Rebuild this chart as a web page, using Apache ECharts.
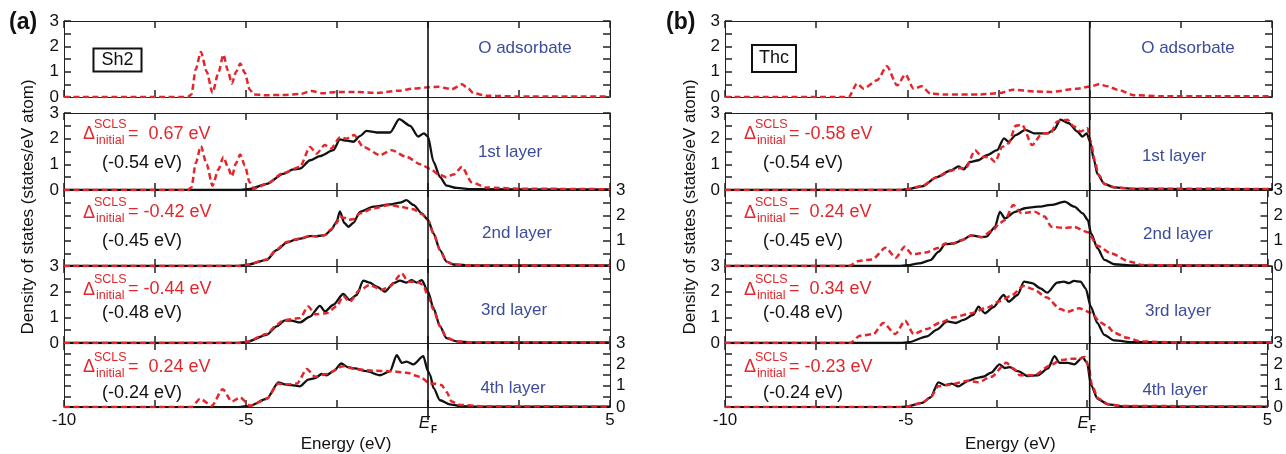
<!DOCTYPE html>
<html><head><meta charset="utf-8">
<script src="https://cdn.jsdelivr.net/npm/echarts@6/dist/echarts.min.js"></script>
<style>html,body{margin:0;padding:0;background:#fff}#c{width:1286px;height:454px}</style>
</head><body><div id="c"></div><script>
// ---------- DATA (energy eV, DOS states/eV atom) ----------
const aO_red = [[-10,0],[-6.6,0],[-6.5,0.1],[-6.38,1.1],[-6.24,1.78],[-6.08,1.0],[-5.92,0.16],[-5.76,0.95],[-5.62,1.67],[-5.5,1.05],[-5.39,0.53],[-5.27,1.0],[-5.16,1.32],[-5.03,0.95],[-4.9,0.3],[-4.78,0.1],[-4.5,0.07],[-4,0.08],[-3.5,0.12],[-3.2,0.24],[-2.9,0.15],[-2.5,0.2],[-2,0.2],[-1.4,0.16],[-0.8,0.25],[-0.4,0.33],[0,0.38],[0.3,0.4],[0.5,0.35],[0.65,0.3],[0.93,0.5],[1.1,0.35],[1.25,0.15],[1.6,0.05],[2.5,0.02],[5,0.02]];
const a1_black = [[-10,0],[-5.2,0],[-4.89,0.04],[-4.43,0.24],[-3.98,0.63],[-3.7,0.8],[-3.52,0.83],[-3.24,1.16],[-2.97,1.32],[-2.6,1.55],[-2.42,1.97],[-2.24,1.92],[-2.05,1.88],[-1.87,2.1],[-1.69,2.3],[-1.41,2.24],[-1.04,2.24],[-0.79,2.76],[-0.49,2.5],[-0.27,2.08],[-0.11,2.21],[0,2.08],[0.15,1.1],[0.33,0.5],[0.51,0.17],[0.79,0.08],[1.2,0.03],[5,0.02]];
const a1_red = [[-10,0],[-6.6,0],[-6.5,0.1],[-6.38,1.05],[-6.24,1.71],[-6.08,1.0],[-5.92,0.17],[-5.76,0.8],[-5.62,1.29],[-5.5,0.9],[-5.39,0.53],[-5.27,1.05],[-5.16,1.38],[-5.03,0.95],[-4.9,0.3],[-4.78,0.05],[-4.43,0.24],[-3.98,0.66],[-3.52,0.9],[-3.24,1.68],[-3.06,1.42],[-2.84,1.75],[-2.66,1.62],[-2.42,2.05],[-2.24,2.0],[-2.03,2.14],[-1.78,1.68],[-1.32,1.36],[-1.0,1.55],[-0.59,1.29],[-0.2,1.0],[0.05,0.83],[0.3,0.6],[0.5,0.5],[0.7,0.6],[0.93,0.9],[1.2,0.3],[1.6,0.1],[2.5,0.05],[5,0.03]];
const a2_black = [[-10,0],[-5.2,0],[-4.98,0.04],[-4.43,0.24],[-4.16,0.63],[-3.88,0.92],[-3.65,1.03],[-3.47,1.09],[-3.24,1.18],[-3.06,1.18],[-2.83,1.22],[-2.66,1.42],[-2.51,1.75],[-2.42,2.16],[-2.3,1.7],[-2.19,1.55],[-2.05,1.7],[-1.87,2.14],[-1.5,2.34],[-1.06,2.43],[-0.77,2.5],[-0.59,2.6],[-0.4,2.41],[-0.17,2.08],[0,1.82],[0.15,1.29],[0.33,0.63],[0.51,0.17],[0.7,0.06],[1.2,0.02],[5,0.02]];
const a2_red = [[-10,0],[-5.2,0],[-4.98,0.05],[-4.43,0.26],[-4.16,0.65],[-3.88,0.95],[-3.65,1.05],[-3.47,1.1],[-3.24,1.2],[-3.06,1.16],[-2.83,1.22],[-2.66,1.45],[-2.51,1.7],[-2.42,1.95],[-2.3,1.9],[-2.19,1.82],[-2.05,1.85],[-1.87,2.08],[-1.5,2.28],[-1.06,2.41],[-0.77,2.34],[-0.4,2.24],[-0.17,2.05],[0,1.82],[0.15,1.29],[0.33,0.63],[0.51,0.17],[0.7,0.06],[1.2,0.02],[5,0.02]];
const a3_black = [[-10,0],[-5.2,0],[-4.98,0.04],[-4.43,0.32],[-4.16,0.65],[-3.93,0.88],[-3.75,0.87],[-3.52,0.8],[-3.24,1.03],[-2.97,1.45],[-2.83,1.23],[-2.6,1.49],[-2.33,1.91],[-2.15,1.68],[-1.96,1.87],[-1.78,2.43],[-1.6,2.35],[-1.41,2.2],[-1.18,2.0],[-0.95,2.33],[-0.77,2.43],[-0.59,2.35],[-0.45,2.45],[-0.31,2.35],[-0.17,2.45],[0,2.0],[0.15,1.36],[0.33,0.65],[0.51,0.19],[0.79,0.06],[1.2,0.02],[5,0.02]];
const a3_red = [[-10,0],[-5.2,0],[-4.98,0.05],[-4.43,0.35],[-4.16,0.7],[-3.98,0.88],[-3.52,0.97],[-3.29,1.42],[-3.1,1.12],[-2.79,1.16],[-2.51,1.42],[-2.33,1.83],[-2.15,1.61],[-1.87,2.07],[-1.6,2.26],[-1.27,2.07],[-1.04,2.22],[-0.72,2.71],[-0.54,2.39],[-0.31,2.39],[-0.13,2.26],[0,1.81],[0.15,1.3],[0.33,0.65],[0.51,0.2],[0.79,0.06],[1.2,0.03],[5,0.02]];
const a4_black = [[-10,0],[-5.2,0],[-4.89,0.06],[-4.43,0.39],[-4.11,1.16],[-3.93,1.06],[-3.75,1.03],[-3.52,0.97],[-3.29,1.29],[-3.1,1.36],[-2.92,1.55],[-2.79,1.49],[-2.6,1.68],[-2.38,2.04],[-2.2,1.87],[-2.01,1.81],[-1.69,1.68],[-1.32,1.49],[-1.04,1.68],[-0.86,2.43],[-0.72,2.07],[-0.59,2.13],[-0.4,2.0],[-0.13,2.39],[0,1.68],[0.06,1.5],[0.15,0.9],[0.33,0.32],[0.6,0.13],[0.88,0.05],[1.5,0.02],[5,0.02]];
const a4_red = [[-10,0],[-6.5,0],[-6.26,0.39],[-5.94,0.06],[-5.64,0.84],[-5.39,0.26],[-5.16,0.45],[-4.89,0.06],[-4.43,0.39],[-4.11,1.1],[-3.93,1.05],[-3.6,1.1],[-3.33,1.78],[-3.1,1.42],[-2.79,1.55],[-2.33,1.91],[-1.96,1.77],[-1.5,1.7],[-1.04,1.68],[-0.59,1.61],[-0.22,1.42],[0.05,1.1],[0.15,1.1],[0.37,1.03],[0.51,0.71],[0.65,0.26],[0.88,0.1],[1.5,0.04],[5,0.03]];

const bO_red = [[-10,0],[-6.61,0],[-6.38,0.53],[-6.2,0.33],[-5.83,0.66],[-5.56,1.21],[-5.28,0.46],[-5.05,0.89],[-4.83,0.33],[-4.6,0.42],[-4.37,0.13],[-4.0,0.1],[-3.0,0.1],[-2.46,0.16],[-2.1,0.29],[-1.5,0.22],[-1.07,0.2],[-0.33,0.33],[0.03,0.42],[0.26,0.5],[0.5,0.42],[0.76,0.29],[1.22,0.07],[2,0.03],[5,0.03]];
const b1_black = [[-10,0],[-5.2,0],[-4.96,0.04],[-4.6,0.14],[-4.19,0.5],[-3.82,0.76],[-3.59,0.92],[-3.46,0.8],[-3.28,1.09],[-3.05,1.16],[-2.82,1.36],[-2.54,1.55],[-2.35,2.01],[-2.22,1.88],[-2.03,2.14],[-1.76,2.34],[-1.53,2.21],[-1.16,2.21],[-0.98,2.34],[-0.8,2.74],[-0.57,2.6],[-0.34,2.28],[-0.2,2.08],[-0.08,2.21],[0.01,1.88],[0.12,1.16],[0.21,0.63],[0.4,0.24],[0.67,0.1],[1.2,0.04],[5,0.03]];
const b1_red = [[-10,0],[-5.2,0],[-4.96,0.04],[-4.6,0.16],[-4.19,0.5],[-3.82,0.74],[-3.59,0.85],[-3.4,0.85],[-3.14,1.55],[-2.96,1.29],[-2.77,1.29],[-2.59,1.09],[-2.4,1.68],[-2.22,1.82],[-2.03,2.5],[-1.85,2.54],[-1.58,1.75],[-1.3,2.21],[-1.07,2.21],[-0.89,2.67],[-0.61,2.74],[-0.43,2.47],[-0.24,2.28],[-0.06,2.41],[0.03,1.88],[0.14,1.16],[0.24,0.6],[0.42,0.22],[0.7,0.1],[1.2,0.05],[5,0.04]];
const b2_black = [[-10,0],[-5.2,0],[-4.96,0.03],[-4.64,0.1],[-4.32,0.23],[-4.1,0.56],[-3.91,0.86],[-3.68,0.88],[-3.46,1.01],[-3.19,1.21],[-2.91,1.14],[-2.77,1.16],[-2.54,1.53],[-2.4,2.14],[-2.26,1.88],[-1.98,2.14],[-1.71,2.28],[-1.35,2.34],[-0.98,2.41],[-0.61,2.54],[-0.34,2.34],[-0.11,2.08],[0.03,1.82],[0.12,1.29],[0.3,0.7],[0.49,0.24],[0.76,0.07],[1.3,0.02],[5,0.02]];
const b2_red = [[-10,0],[-6.57,0],[-6.3,0.2],[-5.93,0.26],[-5.56,0.72],[-5.28,0.33],[-5.03,0.76],[-4.83,0.46],[-4.46,0.53],[-4.09,0.72],[-3.91,0.89],[-3.68,0.9],[-3.46,1.03],[-3.19,1.2],[-2.91,1.14],[-2.6,1.4],[-2.4,1.7],[-2.26,1.82],[-2.03,2.41],[-1.8,2.08],[-1.44,2.14],[-1.16,1.95],[-0.98,1.55],[-0.61,1.5],[-0.34,1.54],[0.03,1.33],[0.3,0.8],[0.67,0.5],[1.19,0.17],[1.55,0.04],[2.5,0.02],[5,0.02]];
const b3_black = [[-10,0],[-5.2,0],[-4.96,0.03],[-4.46,0.26],[-4.19,0.52],[-3.91,0.84],[-3.68,0.78],[-3.46,0.9],[-3.19,1.1],[-3.05,1.42],[-2.87,1.16],[-2.64,1.4],[-2.36,1.87],[-2.22,1.61],[-1.98,1.87],[-1.8,2.39],[-1.58,2.33],[-1.35,2.13],[-1.16,1.96],[-0.89,2.35],[-0.71,2.39],[-0.57,2.33],[-0.43,2.42],[-0.25,2.39],[-0.11,2.13],[0.03,1.42],[0.21,0.78],[0.4,0.32],[0.67,0.1],[1.2,0.03],[5,0.02]];
const b3_red = [[-10,0],[-6.57,0],[-6.3,0.28],[-5.93,0.35],[-5.66,0.78],[-5.33,0.35],[-5.06,0.87],[-4.83,0.35],[-4.46,0.55],[-4.09,0.8],[-3.72,1.0],[-3.27,1.15],[-2.81,1.38],[-2.45,1.64],[-2.17,1.83],[-1.81,2.22],[-1.54,2.09],[-1.17,1.77],[-0.81,1.32],[-0.61,1.22],[-0.29,1.35],[0.03,1.18],[0.3,0.8],[0.49,0.65],[0.67,0.4],[1.03,0.2],[1.4,0.06],[2.5,0.02],[5,0.02]];
const b4_black = [[-10,0],[-5.2,0],[-4.96,0.03],[-4.55,0.2],[-4.32,0.45],[-4.1,1.16],[-3.91,1.03],[-3.73,1.1],[-3.55,0.97],[-3.28,1.23],[-3.05,1.36],[-2.87,1.42],[-2.64,1.61],[-2.41,2.0],[-2.27,1.83],[-2.13,1.87],[-1.9,1.68],[-1.62,1.45],[-1.35,1.49],[-1.07,1.81],[-0.89,2.39],[-0.75,2.07],[-0.52,2.07],[-0.34,2.0],[-0.11,2.33],[0.01,2.07],[0.12,1.03],[0.3,0.39],[0.58,0.13],[1.0,0.03],[5,0.02]];
const b4_red = [[-10,0],[-5.2,0],[-4.96,0.03],[-4.55,0.2],[-4.32,0.45],[-4.1,0.97],[-3.8,1.05],[-3.28,1.23],[-3.0,1.16],[-2.64,1.42],[-2.22,2.07],[-2.03,1.81],[-1.85,1.49],[-1.44,1.49],[-1.03,1.94],[-0.71,2.2],[-0.43,2.26],[-0.2,2.26],[-0.06,2.35],[0.05,1.94],[0.15,1.0],[0.32,0.4],[0.6,0.13],[1.0,0.05],[5,0.03]];

const fermiLine = [[0,0],[0,1]];
const panelTags = ['(a)', '(b)'];
const siteNames = ['Sh2', 'Thc'];
const layerNames = ['O adsorbate', '1st layer', '2nd layer', '3rd layer', '4th layer'];
const sclsA = ['0.67', '-0.42', '-0.44', '0.24'];
const sclsB = ['-0.58', '0.24', '0.34', '-0.23'];
const finalShift = ['(-0.54 eV)', '(-0.45 eV)', '(-0.48 eV)', '(-0.24 eV)'];

// ---------- LAYOUT ----------
const FONT = '"Liberation Sans", Arial, Helvetica, sans-serif';
const RED = '#e3262b', BLACK = '#111111', BLUE = '#3c4b9b', AXIS = '#222';
const panelLeft = [64, 725], panelWidth = [546, 547];
const rowTop = [21, 113, 190, 266, 343], rowH = [76, 77, 76, 77, 77];
const leftLabelRows = [0, 1, 3], rightLabelRows = [2, 4];
const layerLabelX = [[525, 510, 517, 514, 513], [1188, 1174, 1178, 1178, 1175]];
const layerLabelY = [[48, 152, 233, 310, 388], [48, 156, 234, 311, 390]];
const deltaDy = [21, 22.5, 23.5, 24];
const finalDy = [50.3, 51.5, 47.5, 50.4];
const nameShift = [18, 28];

const panels = [
  { red: [aO_red, a1_red, a2_red, a3_red, a4_red], black: [null, a1_black, a2_black, a3_black, a4_black], scls: sclsA },
  { red: [bO_red, b1_red, b2_red, b3_red, b4_red], black: [null, b1_black, b2_black, b3_black, b4_black], scls: sclsB }
];

const grid = [], xAxis = [], yAxis = [], series = [], graphic = [];
const tickFont = { fontFamily: FONT, fontSize: 17, color: '#111' };
function tick() { return { show: true, inside: true, length: 7, lineStyle: { color: '#222', width: 1.5 } }; }
function minor() { return { show: true, splitNumber: 2, length: 7, lineStyle: { color: '#222', width: 1.5 } }; }

function xFmt(v) {
  if (v === -10) return '-10';
  if (v === -5) return '-5';
  if (v === 0) return '{e|E}{f|F}';
  if (v === 5) return '5';
  return '';
}

panels.forEach((P, p) => {
  for (let r = 0; r < 5; r++) {
    const g = grid.length;
    grid.push({ left: panelLeft[p], top: rowTop[r], width: panelWidth[p], height: rowH[r] });
    const xi = xAxis.length;
    const isBottom = r === 4;
    xAxis.push({
      gridIndex: g, type: 'value', min: -10, max: 5, interval: 2.5, position: 'bottom',
      axisLine: { show: true, onZero: false, lineStyle: { color: AXIS, width: 1 } },
      axisTick: tick(), splitLine: { show: false },
      axisLabel: isBottom ? Object.assign({ show: true, margin: 5, formatter: xFmt,
        rich: { e: { fontFamily: FONT, fontSize: 17, fontStyle: 'italic', color: '#111' },
                f: { fontFamily: FONT, fontSize: 10, fontWeight: 'bold', color: '#111', padding: [13, 0, 0, 1] } } }, tickFont) : { show: false },
      name: isBottom ? 'Energy (eV)' : '', nameLocation: 'middle', nameGap: 17,
      nameTextStyle: { fontFamily: FONT, fontSize: 17, color: '#111', padding: [0, 0, 0, nameShift[p]] }
    });
    xAxis.push({
      gridIndex: g, type: 'value', min: -10, max: 5, interval: 2.5, position: 'top',
      axisLine: { show: true, onZero: false, lineStyle: { color: AXIS, width: 1 } },
      axisTick: tick(), splitLine: { show: false }, axisLabel: { show: false }
    });
    const yi = yAxis.length;
    yAxis.push({
      gridIndex: g, type: 'value', min: 0, max: 3, interval: 1, position: 'left',
      axisLine: { show: true, onZero: false, lineStyle: { color: AXIS, width: 1 } },
      axisTick: tick(), minorTick: minor(), splitLine: { show: false },
      axisLabel: Object.assign({ show: leftLabelRows.includes(r), margin: 5 }, tickFont)
    });
    yAxis.push({
      gridIndex: g, type: 'value', min: 0, max: 3, interval: 1, position: 'right',
      axisLine: { show: true, onZero: false, lineStyle: { color: AXIS, width: 1 } },
      axisTick: tick(), minorTick: minor(), splitLine: { show: false },
      axisLabel: Object.assign({ show: rightLabelRows.includes(r), margin: 6 }, tickFont)
    });
    if (P.black[r]) {
      series.push({ type: 'line', xAxisIndex: xi, yAxisIndex: yi, data: P.black[r], showSymbol: false,
        smooth: 0.25, smoothMonotone: 'x', lineStyle: { color: BLACK, width: 2.3 }, z: 2 });
    }
    series.push({ type: 'line', xAxisIndex: xi, yAxisIndex: yi, data: P.red[r], showSymbol: false,
      smooth: 0.25, smoothMonotone: 'x', lineStyle: { color: RED, width: 2.5, type: [6, 3.5] }, z: 3 });

    graphic.push({ type: 'text', x: layerLabelX[p][r], y: layerLabelY[p][r], z: 10,
      style: { text: layerNames[r], fill: BLUE, fontFamily: FONT, fontSize: 17, align: 'center', verticalAlign: 'middle' } });
    if (r > 0) {
      const L = panelLeft[p], T = rowTop[r], dy = deltaDy[r - 1];
      const val = P.scls[r - 1];
      const txt = (val.charAt(0) === '-' ? '= ' : '=  ') + val + ' eV';
      graphic.push({ type: 'text', x: L + 19, y: T + dy + 0.5, z: 10,
        style: { text: '\u0394', fill: RED, fontFamily: FONT, fontSize: 18, align: 'left', verticalAlign: 'middle' } });
      graphic.push({ type: 'text', x: L + 30, y: T + dy - 9.5, z: 10,
        style: { text: 'SCLS', fill: RED, fontFamily: FONT, fontSize: 12.5, align: 'left', verticalAlign: 'middle' } });
      graphic.push({ type: 'text', x: L + 32, y: T + dy + 6.5, z: 10,
        style: { text: 'initial', fill: RED, fontFamily: FONT, fontSize: 12.5, align: 'left', verticalAlign: 'middle' } });
      graphic.push({ type: 'text', x: L + 64, y: T + dy, z: 10,
        style: { text: txt, fill: RED, fontFamily: FONT, fontSize: 18, align: 'left', verticalAlign: 'middle' } });
      graphic.push({ type: 'text', x: L + 38, y: T + finalDy[r - 1], z: 10,
        style: { text: finalShift[r - 1], fill: '#111', fontFamily: FONT, fontSize: 18, align: 'left', verticalAlign: 'middle' } });
    }
  }
  const g = grid.length;
  grid.push({ left: panelLeft[p], top: rowTop[0], width: panelWidth[p], height: rowTop[4] + rowH[4] - rowTop[0] });
  const xi = xAxis.length;
  xAxis.push({ gridIndex: g, type: 'value', min: -10, max: 5, show: false });
  const yi = yAxis.length;
  yAxis.push({ gridIndex: g, type: 'value', min: 0, max: 1, show: false });
  series.push({ type: 'line', xAxisIndex: xi, yAxisIndex: yi, data: fermiLine, showSymbol: false,
    lineStyle: { color: '#111', width: 1.6 }, z: 5 });
});

graphic.push({ type: 'text', x: 9, y: 23, style: { text: panelTags[0], fill: '#111', fontFamily: FONT, fontSize: 23, fontWeight: 'bold', align: 'left', verticalAlign: 'middle' } });
graphic.push({ type: 'text', x: 666, y: 23, style: { text: panelTags[1], fill: '#111', fontFamily: FONT, fontSize: 23, fontWeight: 'bold', align: 'left', verticalAlign: 'middle' } });
graphic.push({ type: 'text', x: 117.5, y: 60, style: { text: siteNames[0], fill: '#111', fontFamily: FONT, fontSize: 18, align: 'center', verticalAlign: 'middle', borderColor: '#111', borderWidth: 2, padding: [2, 7, 1, 7], backgroundColor: '#fff' } });
graphic.push({ type: 'text', x: 774, y: 58.5, style: { text: siteNames[1], fill: '#111', fontFamily: FONT, fontSize: 18, align: 'center', verticalAlign: 'middle', borderColor: '#111', borderWidth: 2, padding: [4, 6, 3, 6], backgroundColor: '#fff' } });
[28.5, 690].forEach(cx => {
  graphic.push({ type: 'text', x: cx, y: 207, rotation: Math.PI / 2,
    style: { text: 'Density of states (states/eV atom)', fill: '#111', fontFamily: FONT, fontSize: 17, align: 'center', verticalAlign: 'middle' } });
});

const chart = echarts.init(document.getElementById('c'), null, { renderer: 'canvas' });
chart.setOption({ animation: false, backgroundColor: '#fff', grid, xAxis, yAxis, series, graphic });
</script></body></html>
